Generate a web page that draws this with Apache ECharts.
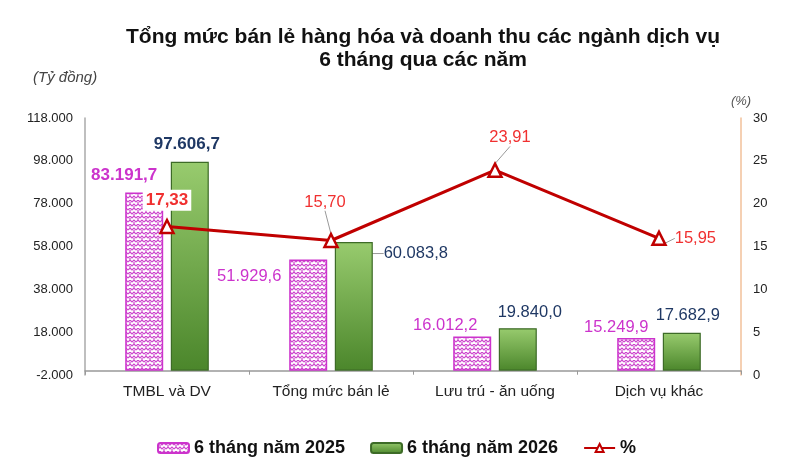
<!DOCTYPE html>
<html>
<head>
<meta charset="utf-8">
<script src="https://cdn.jsdelivr.net/npm/echarts@6/dist/echarts.min.js"></script>
<style>
html,body{margin:0;padding:0;background:#fff;}
#chart{width:799px;height:476px;}
</style>
</head>
<body>
<div id="chart"></div>
<script>
const categories = ['TMBL và DV', 'Tổng mức bán lẻ', 'Lưu trú - ăn uống', 'Dịch vụ khác'];
const values2025 = [83191.7, 51929.6, 16012.2, 15249.9];
const values2026 = [97606.7, 60083.8, 19840.0, 17682.9];
const growthPct = [17.33, 15.70, 23.91, 15.95];
const leftTicks = { min: -2000, max: 118000, interval: 20000 };
const rightTicks = { min: 0, max: 30, interval: 5 };

// label offsets (styling only)
const off2025 = [[-20,-4],[-59,30],[-27,3],[-20,3]];
const off2026 = [[-3,-4],[62,25],[12,-2],[6,-4]];
const offPct = [[0,-3],[-6,-17],[15,-11],[3,0]];

function fmtNum(v, dec) {
  const neg = v < 0;
  const s = Math.abs(v).toFixed(dec);
  const parts = s.split('.');
  const intp = parts[0].replace(/\B(?=(\d{3})+(?!\d))/g, '.');
  return (neg ? '-' : '') + intp + (parts[1] ? ',' + parts[1] : '');
}

// hatch pattern
const pc = document.createElement('canvas');
pc.width = 8; pc.height = 8;
const g = pc.getContext('2d');
g.fillStyle = '#ffffff'; g.fillRect(0,0,8,8);
g.strokeStyle = '#CC44CC'; g.lineWidth = 1.2;
g.beginPath();
g.moveTo(0,2); g.lineTo(2,0); g.lineTo(4,2); g.lineTo(6,0); g.lineTo(8,2);
g.moveTo(0,6); g.lineTo(2,4); g.lineTo(4,6); g.lineTo(6,4); g.lineTo(8,6);
g.moveTo(2,4); g.lineTo(2,2);
g.moveTo(6,8); g.lineTo(6,6);
g.stroke();

const FONT = '"Liberation Sans", Arial, sans-serif';
const chart = echarts.init(document.getElementById('chart'));

const greenGrad = new echarts.graphic.LinearGradient(0,0,0,1,[
  {offset:0,color:'#98CB6E'},{offset:1,color:'#4B862B'}
]);

chart.setOption({
  animation: false,
  textStyle: { fontFamily: FONT },
  title: {
    text: 'Tổng mức bán lẻ hàng hóa và doanh thu các ngành dịch vụ\n6 tháng qua các năm',
    left: 418, textAlign: 'center', top: 21,
    textStyle: { fontFamily: FONT, fontSize: 21, fontWeight: 'bold', color: '#111', lineHeight: 23 }
  },
  graphic: [
    { type: 'text', left: 33, top: 70,
      style: { text: '(Tỷ đồng)', fontFamily: FONT, fontStyle: 'italic', fontSize: 15, fill: '#444' } }
  ],
  legend: {
    top: 434, left: 152,
    itemWidth: 31, itemHeight: 10, itemGap: 25,
    textStyle: { fontFamily: FONT, fontSize: 18, fontWeight: 'bold', color: '#111' },
    data: ['6 tháng năm 2025', '6 tháng năm 2026', '%']
  },
  grid: { left: 85, right: 58, top: 118, bottom: 101, containLabel: false },
  xAxis: {
    type: 'category', data: categories,
    axisLine: { lineStyle: { color: '#999', width: 1.5 } },
    axisTick: { show: true, length: 4, lineStyle: { color: '#999' } },
    axisLabel: { fontFamily: FONT, fontSize: 15.5, color: '#222', margin: 9 }
  },
  yAxis: [
    {
      type: 'value', min: leftTicks.min, max: leftTicks.max, interval: leftTicks.interval,
      axisLine: { show: true, lineStyle: { color: '#aaa', width: 1.5 } },
      axisTick: { show: false },
      splitLine: { show: false },
      axisLabel: { fontFamily: FONT, fontSize: 13, color: '#222', margin: 12, formatter: v => fmtNum(v, 0) }
    },
    {
      type: 'value', min: rightTicks.min, max: rightTicks.max, interval: rightTicks.interval,
      position: 'right',
      name: '(%)', nameLocation: 'end', nameGap: 10,
      nameTextStyle: { fontFamily: FONT, fontStyle: 'italic', fontSize: 13, color: '#555', align: 'center' },
      axisLine: { show: true, lineStyle: { color: '#F2C09A', width: 1.5 } },
      axisTick: { show: false },
      splitLine: { show: false },
      axisLabel: { fontFamily: FONT, fontSize: 13, color: '#222', margin: 12 }
    }
  ],
  series: [
    {
      name: '6 tháng năm 2025', type: 'bar', yAxisIndex: 0,
      barWidth: 38, barGap: '20%',
      itemStyle: { color: { image: pc, repeat: 'repeat' }, borderColor: '#CC33CC', borderWidth: 1.5 },
      data: values2025.map((v, i) => ({
        value: v,
        label: i === 0 ? { fontWeight: 'bold', fontSize: 17 } : {}
      })),
      label: {
        show: true, position: 'top', color: '#CC33CC', fontSize: 16.5, fontFamily: FONT,
        formatter: p => fmtNum(p.value, 1)
      },
      labelLayout: p => ({ dx: off2025[p.dataIndex][0], dy: off2025[p.dataIndex][1] })
    },
    {
      name: '6 tháng năm 2026', type: 'bar', yAxisIndex: 0,
      barWidth: 38,
      itemStyle: { color: greenGrad, borderColor: '#3D6B27', borderWidth: 1.2 },
      data: values2026.map((v, i) => ({
        value: v,
        label: i === 0 ? { fontWeight: 'bold', fontSize: 17 } : {},
        labelLine: { show: i === 1 }
      })),
      label: {
        show: true, position: 'top', color: '#1F3864', fontSize: 16.5, fontFamily: FONT,
        formatter: p => fmtNum(p.value, 1)
      },
      labelLine: { show: false, lineStyle: { color: '#999', width: 1 } },
      labelLayout: p => ({ dx: off2026[p.dataIndex][0], dy: off2026[p.dataIndex][1] })
    },
    {
      name: '%', type: 'line', yAxisIndex: 1,
      data: growthPct.map((v, i) => ({
        value: v,
        label: i === 0 ? { fontWeight: 'bold', fontSize: 17, backgroundColor: '#fff', padding: [2, 3] } :
               (i === 3 ? { position: 'right' } : {}),
        labelLine: { show: i !== 0 }
      })),
      lineStyle: { color: '#C00000', width: 3 },
      symbol: 'triangle', symbolSize: 13,
      itemStyle: { color: '#fff', borderColor: '#C00000', borderWidth: 2.5 },
      z: 5,
      label: {
        show: true, position: 'top', color: '#F03030', fontSize: 16.5, fontFamily: FONT,
        formatter: p => fmtNum(p.value, 2)
      },
      labelLine: { show: false, lineStyle: { color: '#999', width: 1 } },
      labelLayout: p => ({ dx: offPct[p.dataIndex][0], dy: offPct[p.dataIndex][1] })
    }
  ]
});
</script>
</body>
</html>
